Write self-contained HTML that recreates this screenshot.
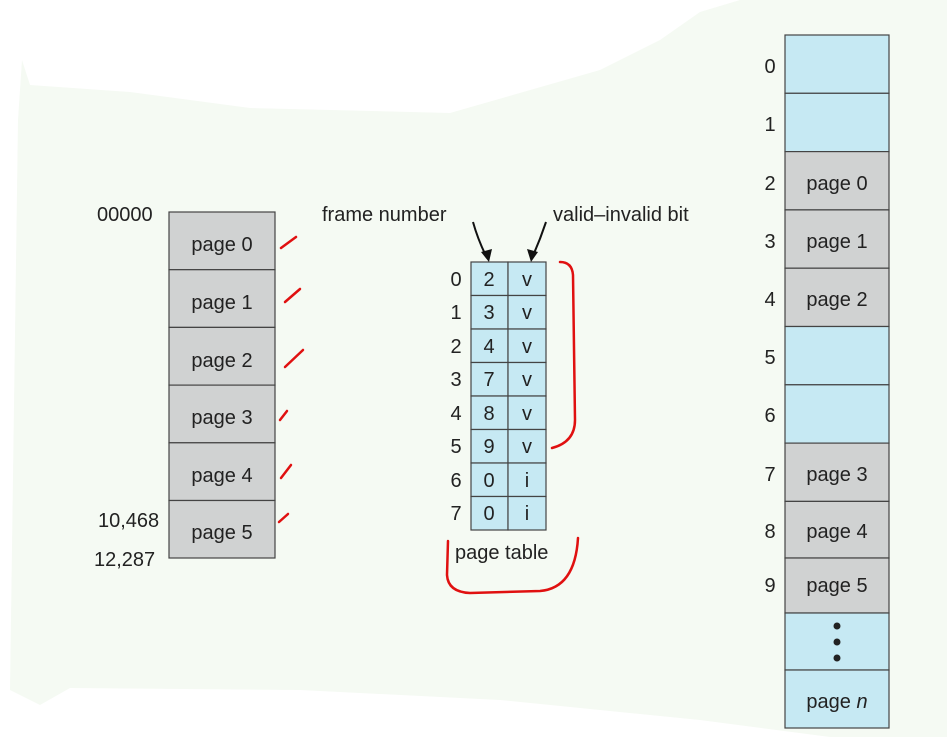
<!DOCTYPE html>
<html><head><style>
body{margin:0;width:947px;height:737px;overflow:hidden;background:#fff}
svg text{font-family:"Liberation Sans",sans-serif;font-size:20px;fill:#222}
</style></head><body>
<svg width="947" height="737" viewBox="0 0 947 737" xmlns="http://www.w3.org/2000/svg">
<path d="M22,60 L30,85 L130,92 L250,108 L450,113 L600,70 L660,40 L700,12 L740,0 L947,0 L947,737 L830,737 L700,720 L500,700 L300,690 L70,688 L40,705 L10,690 L18,120 Z" fill="#f5faf3"/>
<g stroke="#444" stroke-width="1.2">
<g fill="#d0d2d2">
<rect x="169" y="212" width="106" height="57.7"/><rect x="169" y="269.7" width="106" height="57.7"/>
<rect x="169" y="327.4" width="106" height="57.7"/><rect x="169" y="385.1" width="106" height="57.7"/>
<rect x="169" y="442.8" width="106" height="57.7"/><rect x="169" y="500.5" width="106" height="57.5"/>
</g>
<g fill="#c6e9f3">
<rect x="471" y="262" width="37" height="33.5"/><rect x="508" y="262" width="38" height="33.5"/>
<rect x="471" y="295.5" width="37" height="33.5"/><rect x="508" y="295.5" width="38" height="33.5"/>
<rect x="471" y="329" width="37" height="33.5"/><rect x="508" y="329" width="38" height="33.5"/>
<rect x="471" y="362.5" width="37" height="33.5"/><rect x="508" y="362.5" width="38" height="33.5"/>
<rect x="471" y="396" width="37" height="33.5"/><rect x="508" y="396" width="38" height="33.5"/>
<rect x="471" y="429.5" width="37" height="33.5"/><rect x="508" y="429.5" width="38" height="33.5"/>
<rect x="471" y="463" width="37" height="33.5"/><rect x="508" y="463" width="38" height="33.5"/>
<rect x="471" y="496.5" width="37" height="33.5"/><rect x="508" y="496.5" width="38" height="33.5"/>
</g>
<rect x="785" y="35" width="104" height="58.3" fill="#c6e9f3"/>
<rect x="785" y="93.3" width="104" height="58.3" fill="#c6e9f3"/>
<rect x="785" y="151.6" width="104" height="58.3" fill="#d0d2d2"/>
<rect x="785" y="209.9" width="104" height="58.3" fill="#d0d2d2"/>
<rect x="785" y="268.2" width="104" height="58.3" fill="#d0d2d2"/>
<rect x="785" y="326.5" width="104" height="58.3" fill="#c6e9f3"/>
<rect x="785" y="384.8" width="104" height="58.3" fill="#c6e9f3"/>
<rect x="785" y="443.1" width="104" height="58.3" fill="#d0d2d2"/>
<rect x="785" y="501.4" width="104" height="56.6" fill="#d0d2d2"/>
<rect x="785" y="558" width="104" height="55" fill="#d0d2d2"/>
<rect x="785" y="613" width="104" height="57" fill="#c6e9f3"/>
<rect x="785" y="670" width="104" height="58" fill="#c6e9f3"/>
</g>
<g fill="#222"><circle cx="837" cy="626" r="3.5"/><circle cx="837" cy="642" r="3.5"/><circle cx="837" cy="658" r="3.5"/></g>
<g text-anchor="middle">
<text x="222" y="251">page 0</text><text x="222" y="309">page 1</text><text x="222" y="367">page 2</text>
<text x="222" y="424">page 3</text><text x="222" y="482">page 4</text><text x="222" y="539">page 5</text>
</g>
<text x="97" y="221">00000</text><text x="98" y="527">10,468</text><text x="94" y="566">12,287</text>
<g text-anchor="middle">
<text x="489" y="286">2</text><text x="527" y="286">v</text>
<text x="489" y="319">3</text><text x="527" y="319">v</text>
<text x="489" y="353">4</text><text x="527" y="353">v</text>
<text x="489" y="386">7</text><text x="527" y="386">v</text>
<text x="489" y="420">8</text><text x="527" y="420">v</text>
<text x="489" y="453">9</text><text x="527" y="453">v</text>
<text x="489" y="487">0</text><text x="527" y="487">i</text>
<text x="489" y="520">0</text><text x="527" y="520">i</text>
<text x="456" y="286">0</text><text x="456" y="319">1</text><text x="456" y="353">2</text><text x="456" y="386">3</text>
<text x="456" y="420">4</text><text x="456" y="453">5</text><text x="456" y="487">6</text><text x="456" y="520">7</text>
</g>
<text x="455" y="559">page table</text>
<text x="322" y="221">frame number</text><text x="553" y="221">valid–invalid bit</text>
<g stroke="#111" stroke-width="2" fill="none"><path d="M473,222 Q478,240 487,258"/><path d="M546,222 Q540,240 532,258"/></g>
<g fill="#111"><path d="M481,252 L489,262 L492,249 Z"/><path d="M527,249 L531,262 L538,252 Z"/></g>
<g text-anchor="middle">
<text x="770" y="73">0</text><text x="770" y="131">1</text><text x="770" y="190">2</text><text x="770" y="248">3</text>
<text x="770" y="306">4</text><text x="770" y="364">5</text><text x="770" y="422">6</text><text x="770" y="481">7</text>
<text x="770" y="538">8</text><text x="770" y="592">9</text>
<text x="837" y="190">page 0</text><text x="837" y="248">page 1</text><text x="837" y="306">page 2</text>
<text x="837" y="481">page 3</text><text x="837" y="538">page 4</text><text x="837" y="592">page 5</text>
<text x="837" y="708">page <tspan font-style="italic">n</tspan></text>
</g>
<g stroke="#e01010" stroke-width="2.5" fill="none" stroke-linecap="round">
<path d="M281,248 L296,237"/><path d="M285,302 L300,289"/><path d="M285,367 L303,350"/>
<path d="M280,420 L287,411"/><path d="M281,478 L291,465"/><path d="M279,522 L288,514"/>
<path d="M560,262 Q572,262 573,275 L575,420 Q575,442 552,448"/>
<path d="M448,541 L447,575 Q448,592 470,593 L540,591 Q575,588 578,538"/>
</g>
</svg>
</body></html>
